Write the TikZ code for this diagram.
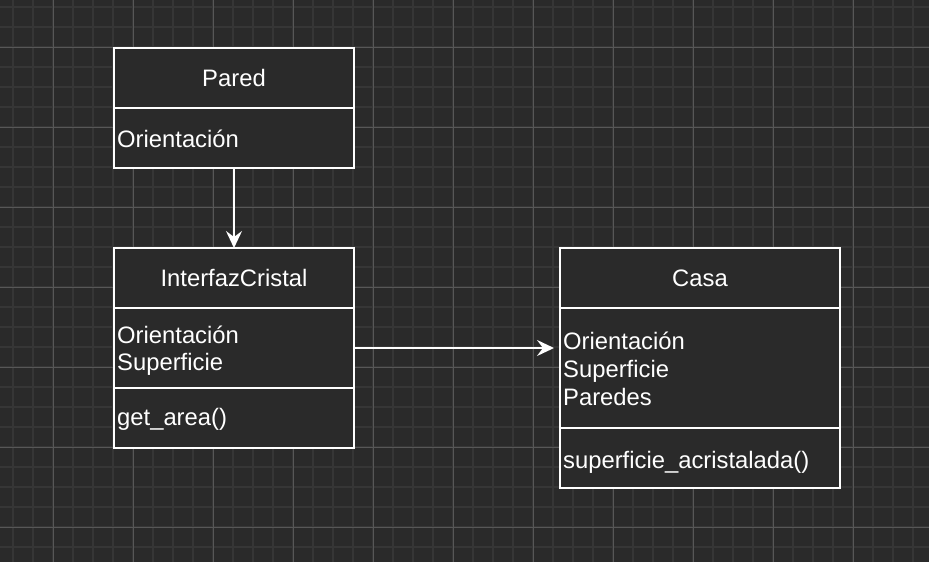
\documentclass[tikz,border=0pt]{standalone}
\usepackage{fontspec}
\setmainfont{Liberation Sans}
\usetikzlibrary{arrows.meta}
\definecolor{bg}{HTML}{2A2A2A}
\definecolor{minorgrid}{HTML}{363636}
\definecolor{majorgrid}{HTML}{575757}
\tikzset{
  comp/.style={draw=white, line width=2pt, fill=bg, rectangle, anchor=north west, inner sep=0pt, outer sep=0pt},
  title/.style={text=white, anchor=base, inner sep=0pt, font=\fontsize{23.8}{27}\selectfont},
  attr/.style={text=white, anchor=base west, inner sep=0pt, font=\fontsize{23.8}{27}\selectfont},
  conn/.style={draw=white, line width=2pt, -{Stealth[length=17pt,width=16pt,inset=6pt]}},
}
\begin{document}
\begin{tikzpicture}[x=1pt,y=-1pt]
\fill[bg] (0,0) rectangle (929,562);
\useasboundingbox (0,0) rectangle (929,562);
% grid
\foreach \i in {0,...,45} \draw[minorgrid, line width=2pt] ({13+20*\i},0) -- ({13+20*\i},562);
\foreach \j in {0,...,27} \draw[minorgrid, line width=2pt] (0,{7+20*\j}) -- (929,{7+20*\j});
\foreach \i in {0,...,10} \draw[majorgrid, line width=1pt] ({53+80*\i},0) -- ({53+80*\i},562);
\foreach \j in {0,...,6} \draw[majorgrid, line width=1pt] (0,{47+80*\j}) -- (929,{47+80*\j});
% Pared
\node[comp, minimum width=240pt, minimum height=60pt] (paredH) at (114,48) {};
\node[comp, minimum width=240pt, minimum height=60pt] (paredA) at (114,108) {};
\node[title] (paredT) at (234,86) {Pared};
\node[attr] (paredA1) at (117,147) {Orientación};
% InterfazCristal
\node[comp, minimum width=240pt, minimum height=60pt] (cristalH) at (114,248) {};
\node[comp, minimum width=240pt, minimum height=80pt] (cristalA) at (114,308) {};
\node[comp, minimum width=240pt, minimum height=60pt] (cristalM) at (114,388) {};
\node[title] (cristalT) at (234,286) {InterfazCristal};
\node[attr] (cristalA1) at (117,343) {Orientación};
\node[attr] (cristalA2) at (117,370) {Superficie};
\node[attr] (cristalM1) at (117,425) {get\_area()};
% Casa
\node[comp, minimum width=280pt, minimum height=60pt] (casaH) at (560,248) {};
\node[comp, minimum width=280pt, minimum height=120pt] (casaA) at (560,308) {};
\node[comp, minimum width=280pt, minimum height=60pt] (casaM) at (560,428) {};
\node[title] (casaT) at (700,286) {Casa};
\node[attr] (casaA1) at (563,349) {Orientación};
\node[attr] (casaA2) at (563,377) {Superficie};
\node[attr] (casaA3) at (563,405) {Paredes};
\node[attr] (casaM1) at (563,468) {superficie\_acristalada()};
% connectors
\coordinate (casaIn) at (554,348);
\draw[conn] (paredA.south) -- (cristalH.north);
\draw[conn] (cristalA.east) -- (casaIn);
\end{tikzpicture}
\end{document}
